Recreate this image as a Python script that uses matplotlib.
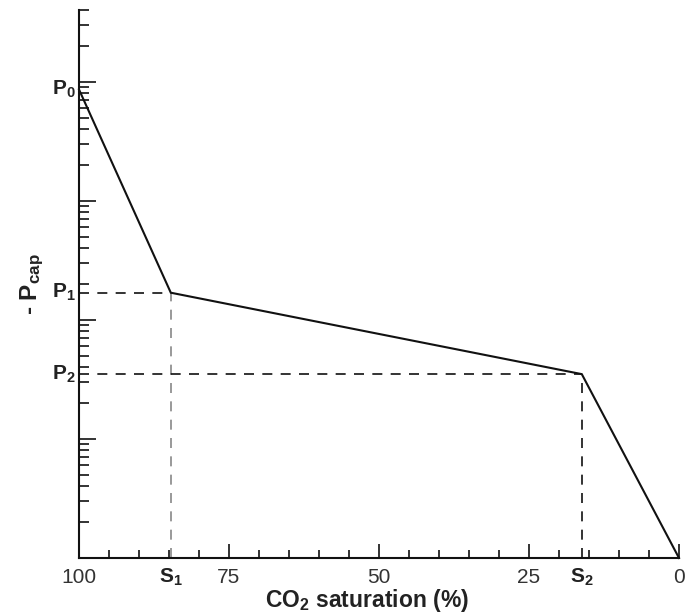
import matplotlib
matplotlib.use("Agg")
import matplotlib.pyplot as plt
from matplotlib.ticker import FixedLocator, LogLocator, NullFormatter
import matplotlib.transforms as mtransforms

plt.rcParams['font.family'] = ['Liberation Sans', 'DejaVu Sans']
plt.rcParams['mathtext.fontset'] = 'custom'
plt.rcParams['mathtext.rm'] = 'Liberation Sans'
plt.rcParams['mathtext.bf'] = 'Liberation Sans:bold'
plt.rcParams['mathtext.it'] = 'Liberation Sans:italic'

# Capillary pressure curve: saturation breakpoints and pressures
saturation = [100, 84.7, 16.2, 0]
pressure = [860, 16.9, 3.5, 0.1]
s_labels = [r'$\mathbf{S_1}$', r'$\mathbf{S_2}$']
p_labels = [r'$\mathbf{P_0}$', r'$\mathbf{P_1}$', r'$\mathbf{P_2}$']
xticks_major = [100, 75, 50, 25, 0]
xtick_labels = ['100', '75', '50', '25', '0']
xticks_minor = list(range(0, 101, 5))

fig = plt.figure(figsize=(6.85, 6.13), dpi=100)
ax = fig.add_axes([79/685, 1 - 558/613, 600/685, 548/613])

ax.set_yscale('log')
ax.set_xlim(100, 0)
ax.set_ylim(0.1, 4000)

# main curve
ax.plot(saturation, pressure, color='#111111', lw=1.5, solid_joinstyle='miter', clip_on=False, zorder=3)

# guide lines to the breakpoints
dash = (0, (6, 5))
ax.plot([100, saturation[1]], [pressure[1], pressure[1]], color='#111111', lw=1.2, linestyle=dash)
ax.plot([saturation[1], saturation[1]], [0.1, pressure[1]], color='#888888', lw=1.2, linestyle=dash)
ax.plot([100, saturation[2]], [pressure[2], pressure[2]], color='#111111', lw=1.2, linestyle=dash)
ax.plot([saturation[2], saturation[2]], [0.1, pressure[2]], color='#111111', lw=1.2, linestyle=dash)

# spines
for side in ['top', 'right']:
    ax.spines[side].set_visible(False)
for side in ['left', 'bottom']:
    ax.spines[side].set_linewidth(1.5)
    ax.spines[side].set_color('#111111')

# y ticks: log decades, no numeric labels
ax.yaxis.set_major_locator(LogLocator(base=10, numticks=10))
ax.yaxis.set_minor_locator(LogLocator(base=10, subs=range(2, 10), numticks=20))
ax.yaxis.set_major_formatter(NullFormatter())
ax.yaxis.set_minor_formatter(NullFormatter())
ax.tick_params(axis='y', which='major', direction='in', length=12, width=1.2, color='#111111')
ax.tick_params(axis='y', which='minor', direction='in', length=7, width=1.2, color='#111111')

# x ticks
ax.xaxis.set_major_locator(FixedLocator(xticks_major))
ax.set_xticklabels(xtick_labels)
ax.xaxis.set_minor_locator(FixedLocator(xticks_minor))
ax.tick_params(axis='x', which='major', direction='in', length=10, width=1.2, color='#111111',
               labelsize=15, labelcolor='#333333', pad=7)
ax.tick_params(axis='x', which='minor', direction='in', length=6, width=1.2, color='#111111')

# breakpoint labels
xtrans = mtransforms.blended_transform_factory(ax.transData, ax.transAxes)
ytrans = mtransforms.blended_transform_factory(ax.transAxes, ax.transData)
for s, lab in zip(saturation[1:3], s_labels):
    ax.text(s, -0.016, lab, transform=xtrans, ha='center', va='top', fontsize=15, color='#222222')
for p, lab in zip(pressure[:3], p_labels):
    ax.text(-0.006, p, lab, transform=ytrans, ha='right', va='center', fontsize=15, color='#222222')

ax.set_xlabel(r'CO$_\mathbf{2}$ saturation (%)', fontsize=16.5, fontweight='bold',
              color='#222222', labelpad=0, x=0.48)
ax.set_ylabel(r'- P$_\mathbf{cap}$', fontsize=17.5, fontweight='bold', color='#222222', labelpad=20)

fig.savefig('out.png', dpi=100)
